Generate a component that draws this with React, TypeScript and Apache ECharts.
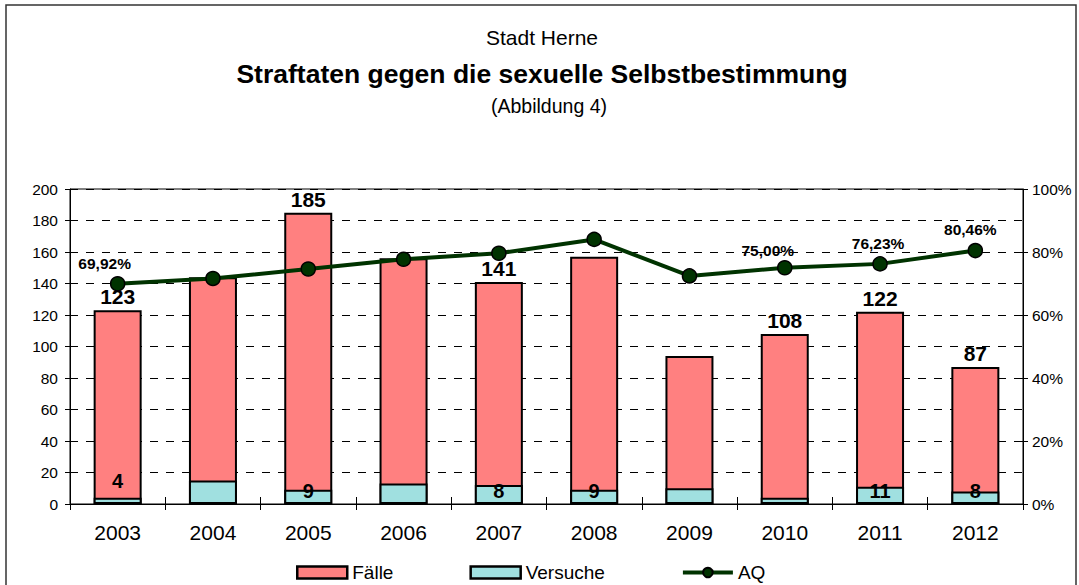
import React, { useEffect, useRef } from "react";
import * as echarts from "echarts";

const years = ["2003", "2004", "2005", "2006", "2007", "2008", "2009", "2010", "2011", "2012"];
const faelle = [123, 144, 185, 156, 141, 157, 94, 108, 122, 87];
const versuche = [4, 15, 9, 13, 12, 9, 10, 4, 11, 8];
const aq = [69.92, 71.6, 74.6, 77.7, 79.6, 84.0, 72.4, 75.0, 76.23, 80.46];
const faelleLabels = ["123", "", "185", "", "141", "", "", "108", "122", "87"];
const versucheLabels = ["4", "", "9", "", "8", "9", "", "", "11", "8"];
const aqLabels = ["69,92%", "", "", "", "", "", "", "75,00%", "76,23%", "80,46%"];
const leftTicks = { min: 0, max: 200, interval: 20 };
const rightTicks = { min: 0, max: 100, interval: 20 };

const FONT = "'Liberation Sans', Arial, Helvetica, sans-serif";

export default function App() {
  const ref = useRef<HTMLDivElement>(null);
  useEffect(() => {
    document.body.style.margin = "0";
    if (!ref.current) return;
    const chart = echarts.init(ref.current, null, { renderer: "svg" });
    const aqOffsets: Record<number, number[]> = { 0: [-13, 0], 7: [-17, 3], 8: [-2, 0], 9: [-5, 0] };
    const grid = { left: 70, right: 56, top: 189, bottom: 81, show: true, borderColor: "#000", borderWidth: 1, backgroundColor: "transparent" };
    const baseY = (side: "left" | "right", t: any, extra: any) => ({
      type: "value",
      position: side,
      min: t.min,
      max: t.max,
      interval: t.interval,
      axisLine: { show: true, lineStyle: { color: "#000", width: 1 } },
      ...extra,
    });
    chart.setOption({
      animation: false,
      textStyle: { fontFamily: FONT },
      grid,
      graphic: [
        { type: "rect", shape: { x: 6, y: 5, width: 1070, height: 620 }, style: { fill: "none", stroke: "#333", lineWidth: 1.5 }, silent: true },
        { type: "text", x: 542, y: 37, style: { text: "Stadt Herne", font: `21px ${FONT}`, fill: "#000", align: "center", verticalAlign: "middle" } },
        { type: "text", x: 542, y: 74, style: { text: "Straftaten gegen die sexuelle Selbstbestimmung", font: `bold 26.5px ${FONT}`, fill: "#000", align: "center", verticalAlign: "middle" } },
        { type: "text", x: 549, y: 106, style: { text: "(Abbildung 4)", font: `19.5px ${FONT}`, fill: "#000", align: "center", verticalAlign: "middle" } },
      ],
      legend: {
        left: 291,
        top: 558,
        itemWidth: 50,
        itemHeight: 12,
        itemGap: 76,
        textStyle: { fontSize: 19, color: "#000", fontFamily: FONT },
        lineStyle: { width: 4 },
        data: [
          { name: "Fälle", icon: "rect", itemStyle: { borderColor: "#000", borderWidth: 2.5 } },
          { name: "Versuche", icon: "rect", itemStyle: { borderColor: "#000", borderWidth: 2.5 } },
          { name: "AQ", lineStyle: { width: 4, color: "#003300" } },
        ],
      },
      xAxis: [
        {
          type: "category",
          data: years,
          axisLine: { show: true, lineStyle: { color: "#000", width: 1 } },
          axisTick: { show: true, length: 6, lineStyle: { color: "#000" } },
          axisLabel: { fontSize: 21, color: "#000", margin: 18, fontFamily: FONT },
        },
        {
          type: "category",
          data: years,
          position: "bottom",
          axisLine: { show: false },
          axisTick: { show: true, inside: true, length: 7, lineStyle: { color: "#000" } },
          axisLabel: { show: false },
        },
      ],
      yAxis: [
        baseY("left", leftTicks, {
          axisTick: { show: true, length: 5, lineStyle: { color: "#000" } },
          axisLabel: { fontSize: 15.5, color: "#000", margin: 12, fontFamily: FONT },
          splitLine: { show: true, lineStyle: { color: "#000", type: [8, 8], width: 1 } },
        }),
        baseY("right", rightTicks, {
          axisTick: { show: true, length: 5, lineStyle: { color: "#000" } },
          axisLabel: { fontSize: 15.5, color: "#000", margin: 9, formatter: "{value}%", fontFamily: FONT },
          splitLine: { show: false },
        }),
        baseY("left", leftTicks, {
          axisLine: { show: false },
          axisTick: { show: true, inside: true, length: 6, lineStyle: { color: "#000" } },
          axisLabel: { show: false },
          splitLine: { show: false },
        }),
        baseY("right", rightTicks, {
          axisLine: { show: false },
          axisTick: { show: true, inside: true, length: 5, lineStyle: { color: "#000" } },
          axisLabel: { show: false },
          splitLine: { show: false },
        }),
      ],
      series: [
        {
          name: "Fälle",
          type: "bar",
          data: faelle,
          barWidth: 48,
          barGap: "-100%",
          itemStyle: { color: "#FF8080", borderColor: "#000", borderWidth: 2 },
          label: {
            show: true,
            position: "top",
            distance: 3,
            fontSize: 21,
            fontWeight: "bold",
            color: "#000",
            fontFamily: FONT,
            formatter: (p: any) => faelleLabels[p.dataIndex],
          },
          z: 2,
        },
        {
          name: "Versuche",
          type: "bar",
          data: versuche.map((v, i) => (i === 0 ? { value: v, label: { position: "top", distance: 7 } } : v)),
          barWidth: 48,
          barGap: "-100%",
          itemStyle: { color: "#A0E0E0", borderColor: "#000", borderWidth: 2 },
          label: {
            show: true,
            position: "insideBottom",
            distance: 3,
            fontSize: 20,
            fontWeight: "bold",
            color: "#000",
            fontFamily: FONT,
            formatter: (p: any) => versucheLabels[p.dataIndex],
          },
          z: 3,
        },
        {
          name: "AQ",
          type: "line",
          yAxisIndex: 1,
          data: aq.map((v, i) => (aqOffsets[i] ? { value: v, label: { offset: aqOffsets[i] } } : v)),
          symbol: "circle",
          symbolSize: 14,
          lineStyle: { color: "#003300", width: 4 },
          itemStyle: { color: "#003300", borderColor: "#000", borderWidth: 1.5 },
          label: {
            show: true,
            position: "top",
            distance: 5,
            fontSize: 15.5,
            fontWeight: "bold",
            color: "#000",
            fontFamily: FONT,
            formatter: (p: any) => aqLabels[p.dataIndex],
          },
          z: 5,
        },
      ],
    });
    return () => chart.dispose();
  }, []);
  return <div ref={ref} style={{ width: 1079, height: 585 }} />;
}
